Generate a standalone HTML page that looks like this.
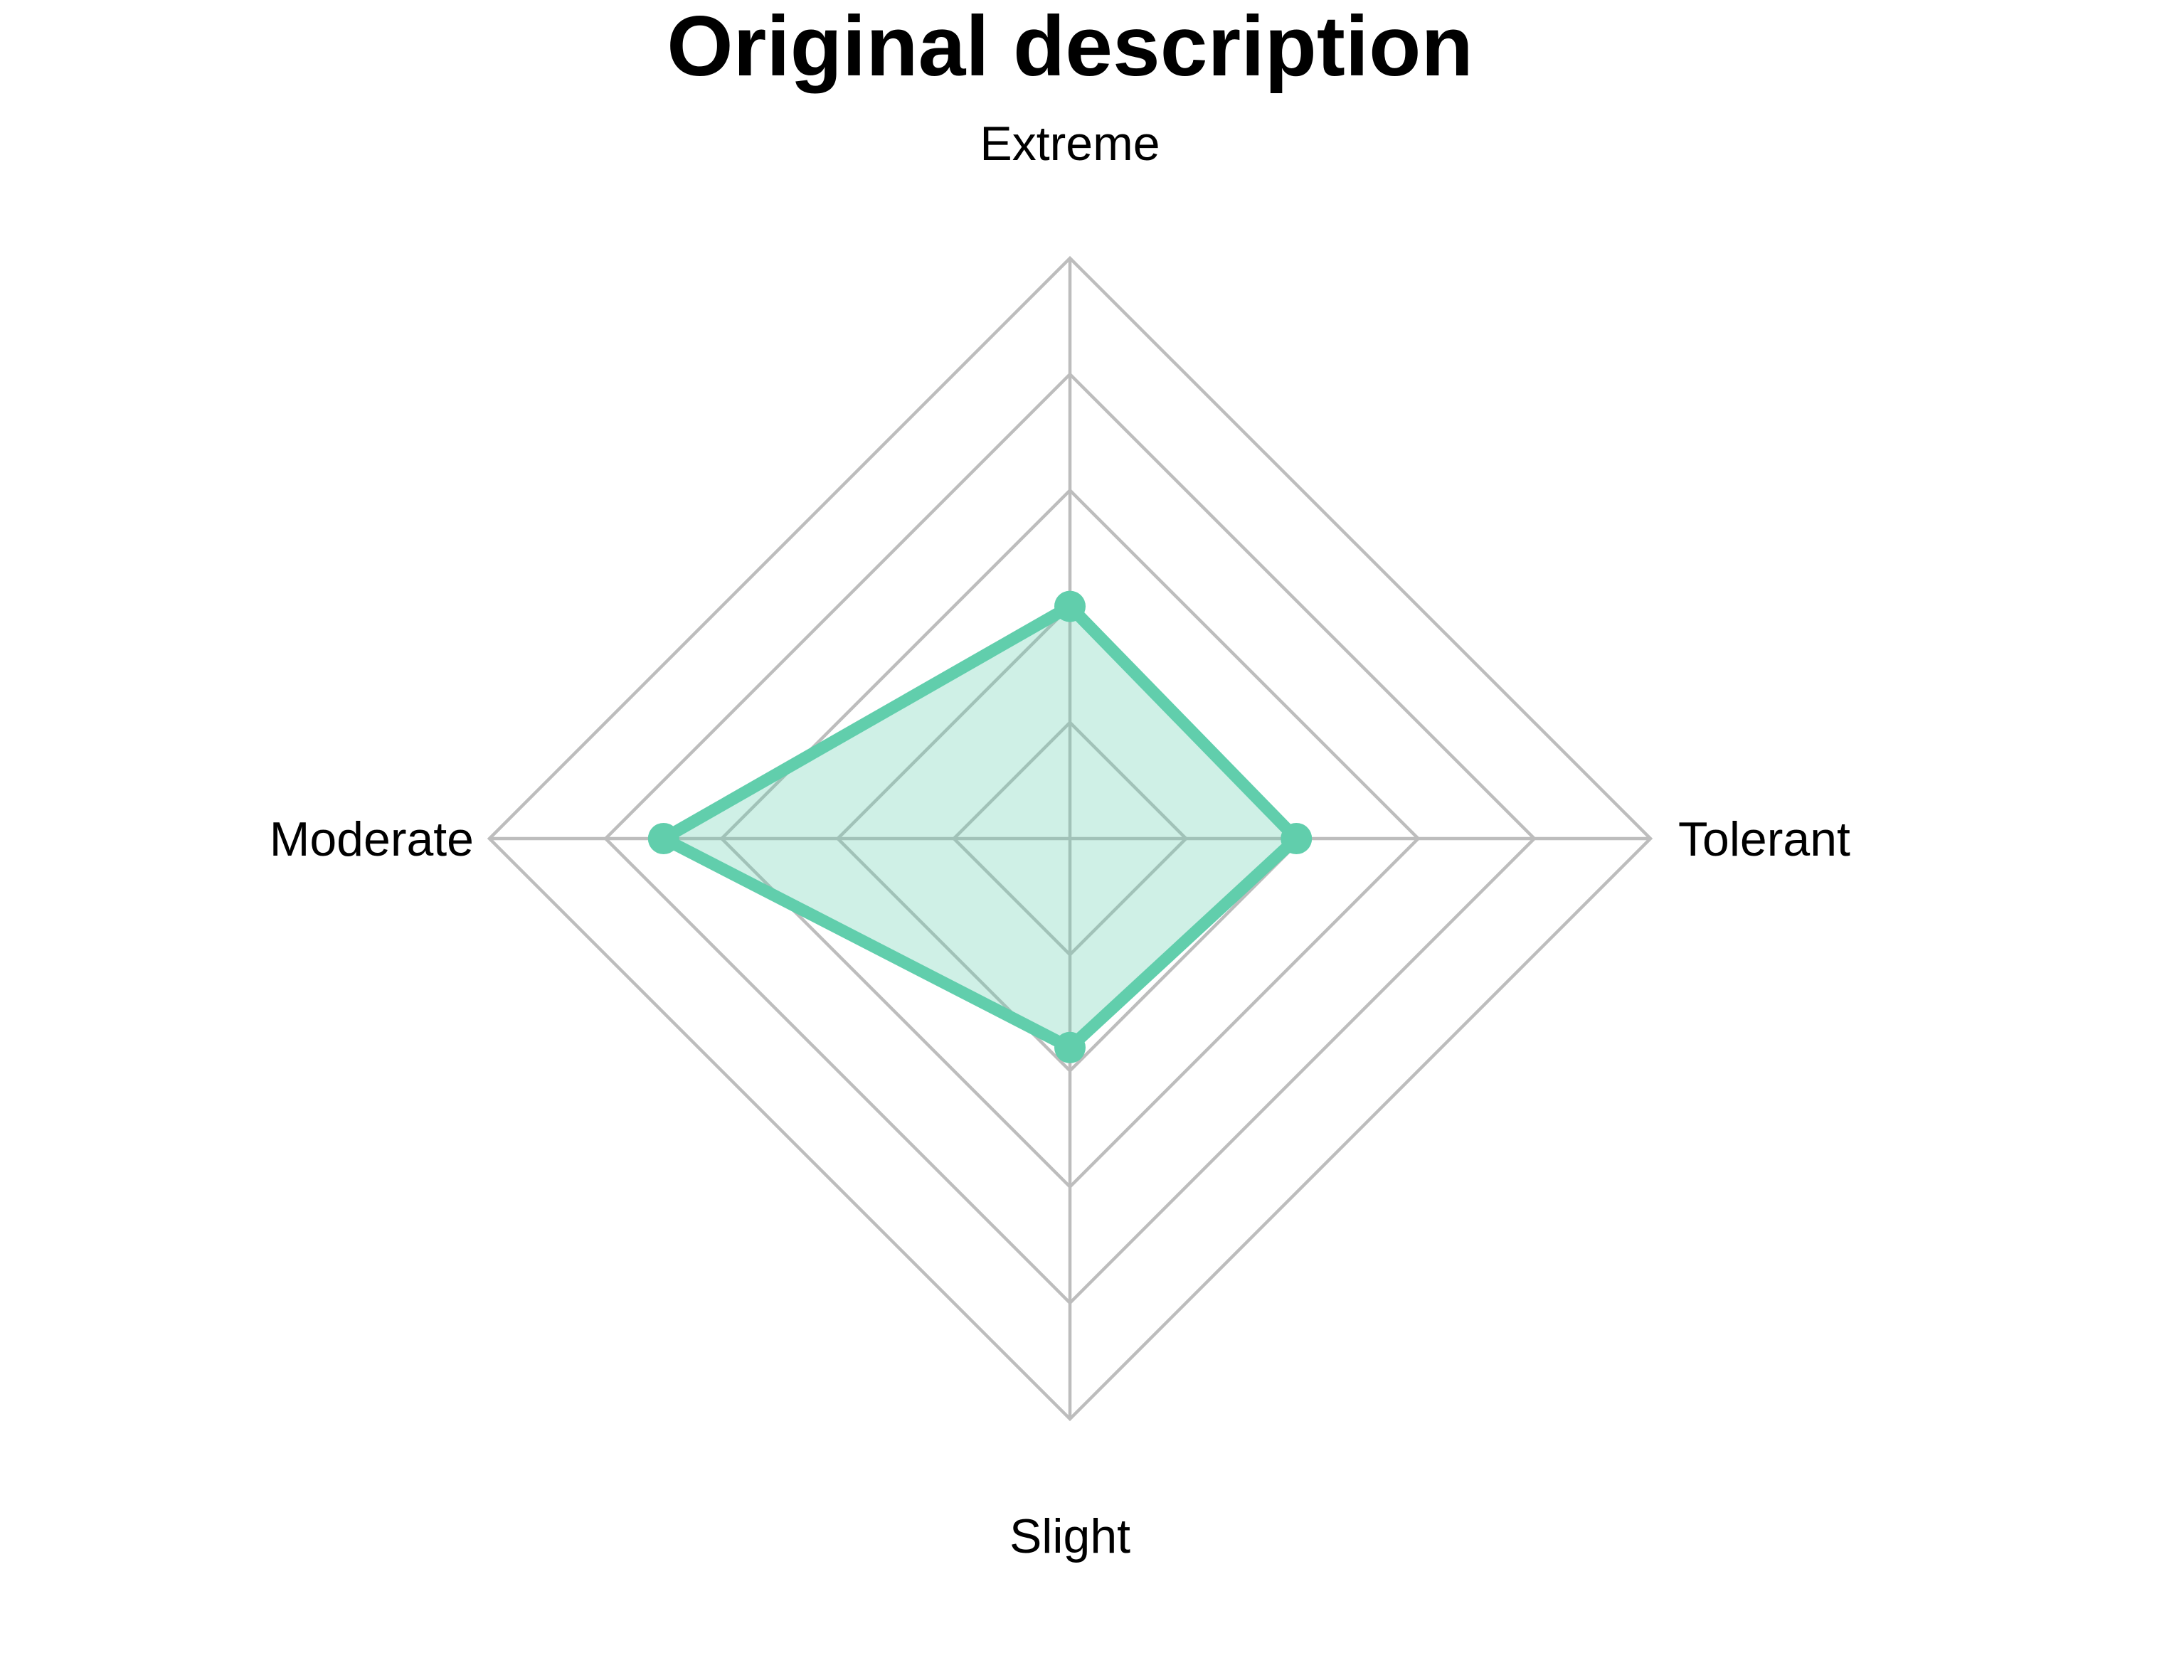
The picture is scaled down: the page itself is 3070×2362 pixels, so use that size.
<!DOCTYPE html>
<html><head><meta charset="utf-8"><style>
html,body{margin:0;padding:0;background:#fff}
svg{display:block}
text{font-family:"Liberation Sans",Arial,sans-serif}
</style></head><body>
<svg id="chart" width="3070" height="2362" viewBox="0 0 3070 2362" xmlns="http://www.w3.org/2000/svg">
<text x="1504" y="106" text-anchor="middle" font-size="120" font-weight="bold" fill="#000">Original description</text>
<g id="grid"></g>
<g id="series"></g>
<g id="labels"></g>
</svg>
<script>
const categories = ["Extreme", "Tolerant", "Slight", "Moderate"];
const values = [2.0, 1.95, 1.8, 3.5];
const maxValue = 5;
const ringLevels = [1, 2, 3, 4, 5];

const NS = "http://www.w3.org/2000/svg";
const cx = 1504, cy = 1179, R = 816;
function angle(i){ return -Math.PI/2 + i*2*Math.PI/categories.length; }
function rScale(v){ return v/maxValue*R; }
function pt(i, v){ const a = angle(i), r = rScale(v); return [cx + r*Math.cos(a), cy + r*Math.sin(a)]; }

const grid = document.getElementById('grid');
ringLevels.forEach(l => {
  const p = document.createElementNS(NS, 'polygon');
  
  
  p.setAttribute('points', categories.map((c,i)=>pt(i,l).join(',')).join(' '));
  p.setAttribute('fill', 'none'); p.setAttribute('stroke', '#bdbdbd'); p.setAttribute('stroke-width', '4.5');
  grid.appendChild(p);
});
categories.forEach((c,i) => {
  const [x,y] = pt(i, maxValue);
  const l = document.createElementNS(NS, 'line');
  
  
  l.setAttribute('x1', cx); l.setAttribute('y1', cy); l.setAttribute('x2', x); l.setAttribute('y2', y);
  l.setAttribute('stroke', '#bdbdbd'); l.setAttribute('stroke-width', '4.5');
  grid.appendChild(l);
});

const series = document.getElementById('series');
const pts = values.map((v,i)=>pt(i,v));
const poly = document.createElementNS(NS, 'polygon');


poly.setAttribute('points', pts.map(p=>p.join(',')).join(' '));
poly.setAttribute('fill', 'rgba(97,206,173,0.3)');
poly.setAttribute('stroke', '#61ceac'); poly.setAttribute('stroke-width', '17'); poly.setAttribute('stroke-linejoin', 'round');
series.appendChild(poly);
pts.forEach((p,i) => {
  const c = document.createElementNS(NS, 'circle');
  
  
  c.setAttribute('cx', p[0]); c.setAttribute('cy', p[1]); c.setAttribute('r', '22');
  c.setAttribute('fill', '#61ceac');
  series.appendChild(c);
});

const labels = document.getElementById('labels');
const labelPos = [
  {x: cx, y: 225, a: 'middle'},
  {x: 2359, y: cy + 24, a: 'start'},
  {x: cx, y: 2183, a: 'middle'},
  {x: 666, y: cy + 24, a: 'end'}
];
categories.forEach((c,i) => {
  const t = document.createElementNS(NS, 'text');
  
  
  t.setAttribute('x', labelPos[i].x); t.setAttribute('y', labelPos[i].y);
  t.setAttribute('text-anchor', labelPos[i].a); t.setAttribute('font-size', '68'); t.setAttribute('fill', '#000');
  t.textContent = c;
  labels.appendChild(t);
});
</script>
</body></html>
